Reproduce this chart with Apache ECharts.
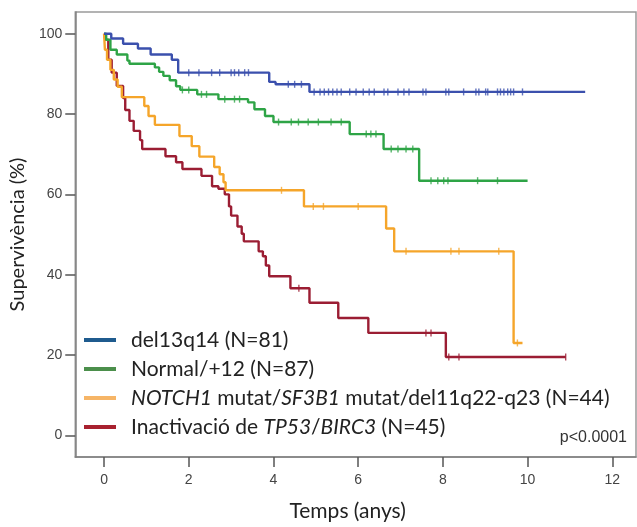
<!DOCTYPE html>
<html>
<head>
<meta charset="utf-8">
<script src="https://cdn.jsdelivr.net/npm/echarts@6/dist/echarts.min.js"></script>
<style>
html,body{margin:0;padding:0;background:#fff;}
#c{width:637px;height:527px;}
</style>
</head>
<body>
<div id="c"></div>
<script>
// ---- Data ----
const groupNames = ['del13q14 (N=81)', 'Normal/+12 (N=87)', 'NOTCH1 mutat/SF3B1 mutat/del11q22-q23 (N=44)', 'Inactivació de TP53/BIRC3 (N=45)'];
const xTicks = [0, 2, 4, 6, 8, 10, 12];
const yTicks = [0, 20, 40, 60, 80, 100];

const delTimes = [0, 0.17, 0.45, 0.8, 1.1, 1.6, 1.75, 3.9, 4.05, 4.85, 11.36];
const delSurv  = [100, 98.8, 97.5, 96.3, 94.8, 93.5, 90.3, 88.0, 87.4, 85.5, 85.5];
const delCens  = [2.0, 2.24, 2.54, 2.73, 3.0, 3.08, 3.18, 3.32, 3.41, 4.35, 4.5, 4.66, 4.96, 5.1, 5.2, 5.3, 5.4, 5.5, 5.6, 5.8, 5.95, 6.12, 6.26, 6.38, 6.61, 6.7, 6.94, 7.08, 7.2, 7.53, 7.6, 8.07, 8.14, 8.49, 8.78, 8.85, 9.01, 9.06, 9.29, 9.36, 9.44, 9.53, 9.6, 9.67, 9.88];

const normTimes = [0, 0.05, 0.15, 0.3, 0.55, 0.6, 1.2, 1.3, 1.4, 1.55, 1.7, 1.8, 2.2, 2.7, 3.4, 3.55, 3.8, 4.0, 5.8, 6.6, 7.44, 10.0];
const normSurv  = [100, 98.5, 96, 94.8, 93.3, 92.5, 91.6, 90.5, 89.5, 88.4, 86.9, 86, 84.9, 83.7, 82.9, 81.2, 79.5, 78, 75, 71.3, 63.4, 63.4];
const normCens  = [1.85, 2.0, 2.3, 2.42, 2.85, 3.08, 3.2, 4.12, 4.42, 4.59, 4.82, 5.06, 5.36, 5.6, 6.19, 6.3, 6.42, 6.78, 6.94, 7.13, 7.29, 7.72, 7.88, 8.02, 8.12, 8.82, 9.29];

const notchTimes = [0, 0.02, 0.07, 0.15, 0.23, 0.32, 0.42, 0.95, 1.05, 1.2, 1.78, 2.07, 2.25, 2.6, 2.73, 2.82, 2.87, 4.72, 6.66, 6.85, 9.67, 9.88];
const notchSurv  = [100, 96, 93.5, 91, 88.6, 86.8, 84.2, 82, 79.5, 77.3, 74.5, 72, 69.4, 66.8, 65, 63, 61, 57, 51.5, 45.8, 23, 23];
const notchCens  = [4.19, 4.94, 5.18, 6.0, 7.13, 8.19, 8.38, 9.32, 9.76];

const tp53Times = [0, 0.03, 0.1, 0.18, 0.3, 0.45, 0.5, 0.6, 0.7, 0.85, 0.9, 1.45, 1.7, 1.85, 2.3, 2.55, 2.7, 2.85, 2.95, 3.0, 3.15, 3.25, 3.3, 3.65, 3.75, 3.82, 3.9, 4.4, 4.85, 5.53, 6.24, 8.07, 10.9];
const tp53Surv  = [100, 98.5, 93.5, 90.3, 87, 84, 81, 78.3, 75.8, 73.5, 71.3, 69.5, 68, 66.3, 64.6, 62, 61.4, 60, 57, 54.7, 52, 50.2, 48.3, 45.8, 44.6, 42.3, 39.6, 36.6, 33, 29.2, 25.5, 19.5, 19.5];
const tp53Cens  = [4.6, 7.6, 7.72, 8.14, 8.38, 10.9];

const lineColors   = ['#3b50ad', '#2ea446', '#f5a52a', '#9b1d33'];
const legendColors = ['#1f5b8e', '#4b8f4b', '#f6b567', '#a8212f'];

// ---- Build ----
const groups = [
  [delTimes, delSurv, delCens],
  [normTimes, normSurv, normCens],
  [notchTimes, notchSurv, notchCens],
  [tp53Times, tp53Surv, tp53Cens]
];
function survAt(times, surv, t) {
  let s = surv[0];
  for (let i = 0; i < times.length; i++) if (times[i] <= t) s = surv[i];
  return s;
}
const series = [];
groups.forEach((g, k) => {
  series.push({
    name: groupNames[k], type: 'line', step: 'end', showSymbol: false,
    data: g[0].map((t, i) => [t, g[1][i]]),
    lineStyle: { color: lineColors[k], width: 2.4 },
    itemStyle: { color: lineColors[k] },
    z: 10 - k, animation: false
  });
  series.push({
    name: groupNames[k] + '_c', type: 'scatter', symbol: 'rect', symbolSize: [1.4, 7],
    data: g[2].map(t => [t, survAt(g[0], g[1], t)]),
    itemStyle: { color: lineColors[k] }, z: 10 - k, animation: false
  });
});

const legendLabels = [
  'del13q14 (N=81)',
  'Normal/+12 (N=87)',
  '{i|NOTCH1} mutat/{i|SF3B1} mutat/del11q22-q23 (N=44)',
  'Inactivació de {i|TP53}/{i|BIRC3} (N=45)'
];

const chart = echarts.init(document.getElementById('c'), null, { renderer: 'canvas' });
chart.setOption({
  animation: false,
  backgroundColor: '#fff',
  grid: { left: 73, right: 1, top: 12, bottom: 67, show: true, borderColor: '#9a9a9a', borderWidth: 1.5 },
  xAxis: {
    type: 'value', min: -0.68, max: 12.56,
    name: 'Temps (anys)', nameLocation: 'middle', nameGap: 44,
    nameTextStyle: { fontFamily: 'Lato', fontSize: 21, color: '#222', padding: [0, 16, 0, 0] },
    axisLine: { show: true, onZero: false, lineStyle: { color: '#808080', width: 1.5 } },
    axisTick: { show: true, customValues: xTicks, length: 10, lineStyle: { color: '#555', width: 1.5 } },
    axisLabel: { customValues: xTicks, margin: 16, fontFamily: 'Liberation Sans', fontSize: 14, color: '#444' },
    splitLine: { show: false }
  },
  yAxis: {
    type: 'value', min: -5.4, max: 105.4,
    name: 'Supervivència (%)', nameLocation: 'middle', nameGap: 46,
    nameTextStyle: { fontFamily: 'Lato', fontSize: 20, color: '#222' },
    axisLine: { show: true, onZero: false, lineStyle: { color: '#808080', width: 1.5 } },
    axisTick: { show: true, customValues: yTicks, length: 10, lineStyle: { color: '#555', width: 1.5 } },
    axisLabel: { customValues: yTicks, margin: 13, fontFamily: 'Liberation Sans', fontSize: 14, color: '#444' },
    splitLine: { show: false }
  },
  legend: {
    orient: 'vertical', left: 79, top: 324, itemGap: 7,
    icon: 'rect', itemWidth: 32, itemHeight: 4,
    data: groupNames.map((n, k) => ({ name: n, itemStyle: { color: legendColors[k] } })),
    formatter: function (name) { return legendLabels[groupNames.indexOf(name)]; },
    textStyle: {
      fontFamily: 'Lato', fontSize: 21, color: '#222', lineHeight: 22, padding: [0, 0, 0, 10],
      rich: { i: { fontFamily: 'Lato', fontSize: 21, fontStyle: 'italic', color: '#222' } }
    }
  },
  graphic: [{
    type: 'text', right: 10, top: 430,
    style: { text: 'p<0.0001', font: '16px "Liberation Sans"', fill: '#333' }
  }],
  series: series
});
</script>
</body>
</html>
